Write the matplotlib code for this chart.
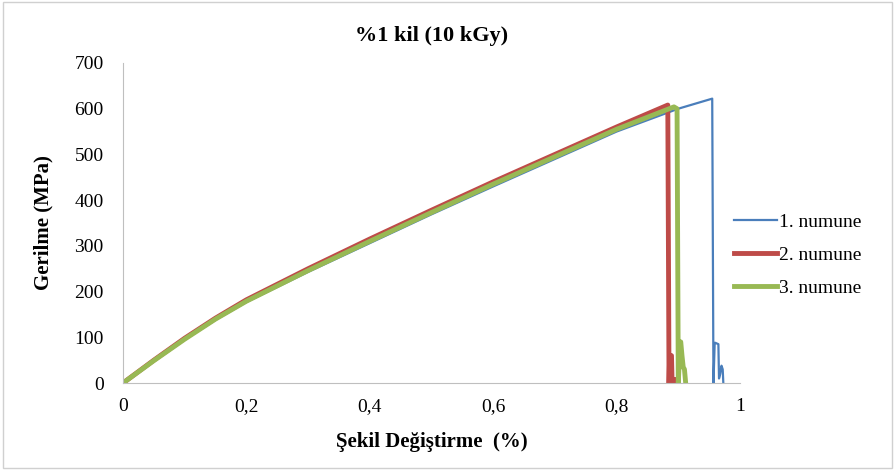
import numpy as np
import matplotlib.pyplot as plt
from matplotlib.patches import Rectangle

plt.rcParams['font.family'] = ['Liberation Serif', 'DejaVu Serif']

# 1. numune
x1 = [0, 0.05, 0.1, 0.15, 0.2, 0.3, 0.4, 0.5, 0.6, 0.7, 0.8, 0.9, 0.955,
      0.957, 0.959, 0.960, 0.965, 0.966, 0.968, 0.970, 0.972, 0.973]
y1 = [0, 48, 95, 138, 177, 243, 306, 369, 430, 490, 550, 600, 622,
      0, 88, 88, 85, 10, 20, 38, 30, 0]
# 2. numune
x2 = [0, 0.05, 0.1, 0.15, 0.2, 0.3, 0.4, 0.5, 0.6, 0.7, 0.8, 0.883,
      0.885, 0.886, 0.889, 0.890, 0.895, 0.898, 0.900]
y2 = [0, 50, 98, 142, 182, 250, 315, 378, 440, 500, 560, 608,
      0, 60, 60, 0, 8, 5, 0]
# 3. numune
x3 = [0, 0.05, 0.1, 0.15, 0.2, 0.3, 0.4, 0.5, 0.6, 0.7, 0.8, 0.893,
      0.898, 0.900, 0.903, 0.904, 0.906, 0.908, 0.910, 0.912]
y3 = [0, 49, 96, 140, 179, 246, 310, 373, 435, 495, 555, 604,
      600, 0, 90, 90, 60, 35, 30, 0]

fig = plt.figure(figsize=(8.95, 4.7), dpi=100)
ax = fig.add_axes([0.1374, 0.185, 0.6894, 0.681])

ax.plot(x1, y1, color='#4a7ebb', lw=1.6, label='1. numune')
ax.plot(x2, y2, color='#be4b48', lw=3.5, label='2. numune')
ax.plot(x3, y3, color='#98b954', lw=3.5, label='3. numune')

ax.set_xlim(0, 1)
ax.set_ylim(0, 700)
ax.set_xticks([0, 0.2, 0.4, 0.6, 0.8, 1])
ax.set_xticklabels(['0', '0,2', '0,4', '0,6', '0,8', '1'])
ax.set_yticks(range(0, 701, 100))
ax.tick_params(length=0, labelsize=14)
ax.tick_params(axis='x', pad=11)
ax.tick_params(axis='y', pad=14)
for s in ['top', 'right']:
    ax.spines[s].set_visible(False)
for s in ['left', 'bottom']:
    ax.spines[s].set_color('#bfbfbf')

ax.set_title('%1 kil (10 kGy)', fontsize=16, fontweight='bold', pad=16)
ax.set_xlabel('Şekil Değiştirme  (%)', fontsize=15, fontweight='bold', labelpad=12)
ax.set_ylabel('Gerilme (MPa)', fontsize=15, fontweight='bold', labelpad=15)

ax.legend(loc='center left', bbox_to_anchor=(0.962, 0.40), frameon=False,
          fontsize=14, handlelength=2.2, handletextpad=0.1, labelspacing=0.8)

fig.patches.append(Rectangle((0.003, 0.005), 0.994, 0.99, transform=fig.transFigure,
                             fill=False, edgecolor='#d0d0d0', lw=1))

fig.savefig('out.png', dpi=100)
